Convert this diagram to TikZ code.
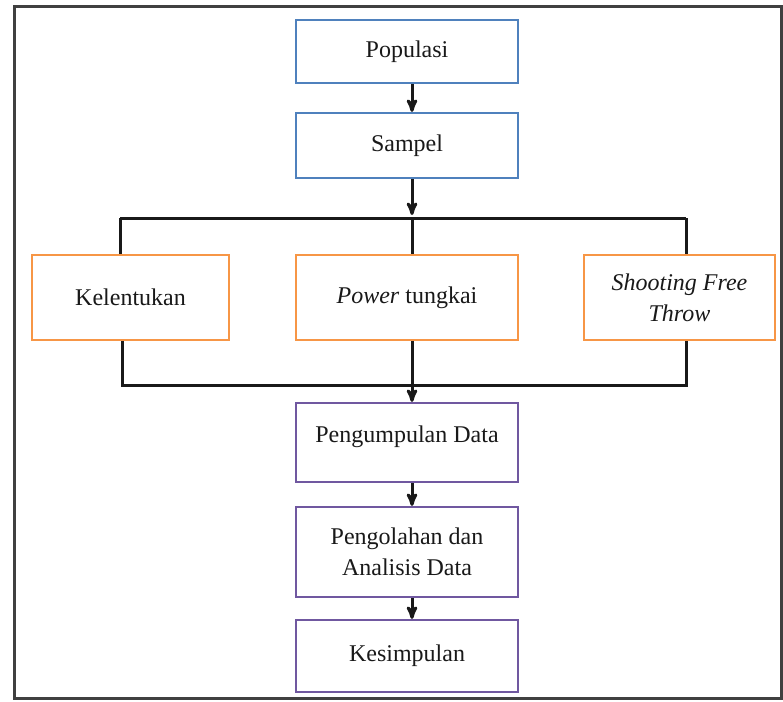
\documentclass[tikz,border=0pt]{standalone}
\usepackage{fontspec}
\setmainfont{Liberation Serif}
\usepackage{tikz}
\usetikzlibrary{arrows}
\usetikzlibrary{positioning}
\definecolor{boxblue}{RGB}{79,129,189}
\definecolor{boxorange}{RGB}{247,150,70}
\definecolor{boxpurple}{RGB}{112,88,160}
\tikzstyle{frame}=[line width=3pt,black!75]
\tikzstyle{box}=[draw,line width=2.2pt,minimum width=222pt,inner sep=4pt,
                align=center,font=\fontsize{24}{31}\selectfont,text=black!90]
\tikzstyle{blue box}=[box,draw=boxblue]
\tikzstyle{orange box}=[box,draw=boxorange]
\tikzstyle{purple box}=[box,draw=boxpurple]
\tikzstyle{link}=[line width=3pt,black!90]
\tikzstyle{flow}=[link,->,>=stealth']

\begin{document}
\begin{tikzpicture}[x=1pt,y=-1pt]
\useasboundingbox (0,0) rectangle (783,701);
\draw[frame] (14,7) rectangle (781,698);
\node[blue box,minimum height=63pt] (pop) at (407,51.5) {Populasi};
\node[blue box,minimum height=65pt] (smp) at (407,145.5) {Sampel};
\node[orange box,minimum width=197pt,minimum height=85pt] (kel) at (130.5,297.5) {Kelentukan};
\node[orange box,minimum height=85pt] (pow) at (407,297.5) {\textit{Power} tungkai};
\node[orange box,minimum width=191pt,minimum height=85pt] (sft) at (679.5,297.5)
  {\textit{Shooting Free}\\\textit{Throw}};
\node[purple box,minimum height=79pt,text height=16pt,text depth=16pt] (kum) at (407,442.5)
  {Pengumpulan Data};
\node[purple box,minimum height=90pt] (olah) at (407,552) {Pengolahan dan\\Analisis Data};
\node[purple box,minimum height=72pt] (simp) at (407,656) {Kesimpulan};
% branching lines
\coordinate (btl) at (120,218);
\coordinate (bt) at (412,218);
\coordinate (btr) at (686,218);
\coordinate (bbl) at (122,385);
\coordinate (bb) at (412,385);
\coordinate (bbr) at (686,385);
\draw[flow] ([xshift=5pt]pop.south) -- ([xshift=5pt]smp.north);
\draw[flow,shorten >=3pt] ([xshift=5pt]smp.south) -- (bt);
\draw[link] (btl) -- (btr);
\draw[link] (btl) -- (btl |- kel.north) (bt) -- (bt |- pow.north) (btr) -- (btr |- sft.north);
\draw[link] (bbl |- kel.south) -- (bbl) -- (bbr) -- (bbr |- sft.south);
\draw[flow] (bb |- pow.south) -- (bb |- kum.north);
\draw[flow] ([xshift=5pt]kum.south) -- ([xshift=5pt]olah.north);
\draw[flow] ([xshift=5pt]olah.south) -- ([xshift=5pt]simp.north);
\end{tikzpicture}
\end{document}
